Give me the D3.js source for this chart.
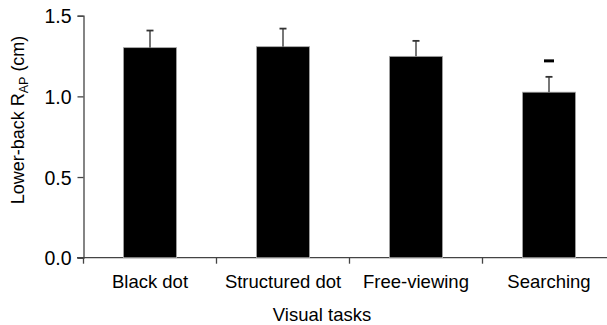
<!DOCTYPE html>
<html><head><meta charset="utf-8">
<script src="https://cdn.jsdelivr.net/npm/d3@7"></script>
<style>body{margin:0;background:#fff}svg{display:block}text{font-family:"Liberation Sans",Arial,sans-serif;fill:#000}</style>
</head><body>
<svg id="c" width="607" height="325"></svg>
<script>
const categories = ["Black dot", "Structured dot", "Free-viewing", "Searching"];
const means = [1.302, 1.308, 1.248, 1.026];
const errors = [0.106, 0.112, 0.096, 0.095];
const sigMarks = [{cat: "Searching", value: 1.22}];
const yTicks = [0, 0.5, 1.0, 1.5];

const svg = d3.select("#c");
const x = d3.scaleBand().domain(categories).range([83.5, 615.5]).paddingInner(0.6).paddingOuter(0.3);
const y = d3.scaleLinear().domain([0, 1.5]).range([257.7, 15.7]);
const step = x.step();
const axisColor = "#444";

// y axis
const ya = svg.append("g").attr("transform", "translate(83.5,0)")
  .call(d3.axisLeft(y).tickValues(yTicks).tickFormat(d3.format(".1f")).tickSize(6).tickPadding(6));
ya.select(".domain").attr("stroke", axisColor).attr("stroke-width", 1.3);
ya.selectAll(".tick line").attr("stroke", axisColor).attr("stroke-width", 1.3);
ya.selectAll(".tick text").style("font-size", "19.5px").attr("fill", "#000").attr("dy", "0.36em");

// x axis line and ticks at slot boundaries
svg.append("line").attr("x1", 77).attr("x2", 607).attr("y1", y(0)).attr("y2", y(0))
  .attr("stroke", axisColor).attr("stroke-width", 1.3);
svg.selectAll(".xt").data(categories).enter().append("line")
  .attr("x1", d => x(d) - step * 0.3).attr("x2", d => x(d) - step * 0.3)
  .attr("y1", y(0)).attr("y2", y(0) + 6).attr("stroke", axisColor).attr("stroke-width", 1.3);
svg.selectAll(".xl").data(categories).enter().append("text")
  .attr("x", d => x(d) + x.bandwidth() / 2).attr("y", 287.5)
  .attr("text-anchor", "middle").style("font-size", "18.5px").text(d => d);

// bars
svg.selectAll(".bar").data(categories).enter().append("rect")
  .attr("x", d => x(d)).attr("width", x.bandwidth())
  .attr("y", (d, i) => y(means[i])).attr("height", (d, i) => y(0) - y(means[i]))
  .attr("fill", "#000").attr("stroke", "#aaa").attr("stroke-width", 0.8);

// error bars
categories.forEach((c, i) => {
  const cx = x(c) + x.bandwidth() / 2;
  svg.append("line").attr("x1", cx).attr("x2", cx).attr("y1", y(means[i])).attr("y2", y(means[i] + errors[i]))
    .attr("stroke", "#555").attr("stroke-width", 1.6);
  svg.append("line").attr("x1", cx - 3.5).attr("x2", cx + 3.5)
    .attr("y1", y(means[i] + errors[i])).attr("y2", y(means[i] + errors[i]))
    .attr("stroke", "#333").attr("stroke-width", 1.8);
});

// significance marks
sigMarks.forEach(m => {
  const cx = x(m.cat) + x.bandwidth() / 2;
  svg.append("line").attr("x1", cx - 5).attr("x2", cx + 5).attr("y1", y(m.value)).attr("y2", y(m.value))
    .attr("stroke", "#000").attr("stroke-width", 3);
});

// axis titles
svg.append("text").attr("x", 322).attr("y", 321).attr("text-anchor", "middle")
  .style("font-size", "18.5px").text("Visual tasks");
const yl = svg.append("text").attr("transform", "translate(23.5,120) rotate(-90)")
  .attr("text-anchor", "middle").style("font-size", "18px");
yl.append("tspan").text("Lower-back R");
yl.append("tspan").attr("dy", 4).style("font-size", "12.5px").text("AP");
yl.append("tspan").attr("dy", -4).text(" (cm)");
</script>
</body></html>
